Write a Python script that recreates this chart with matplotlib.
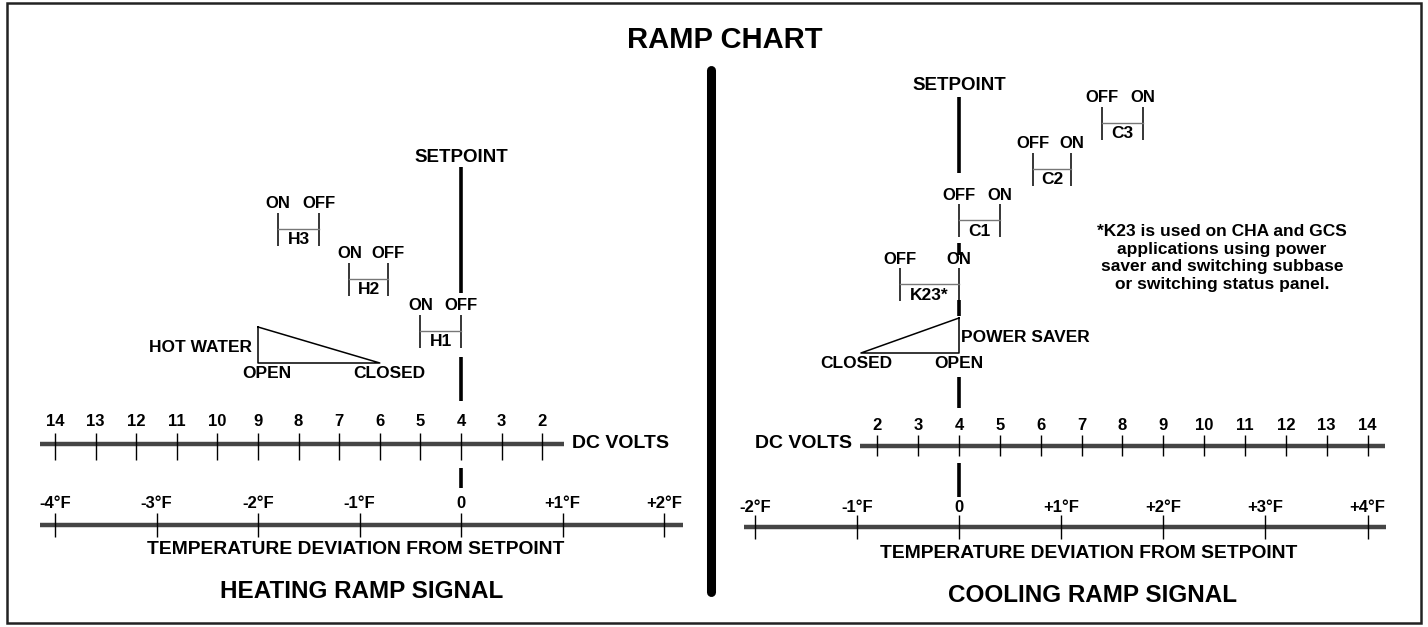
import matplotlib.pyplot as plt
from matplotlib.patches import Rectangle

plt.rcParams['font.family'] = ['Liberation Sans Narrow', 'DejaVu Sans Condensed',
                               'Liberation Sans', 'DejaVu Sans']
plt.rcParams['font.weight'] = 'bold'

# ---- data ----
volt_ticks = list(range(2, 15))
setpoint_volts = 4.0
volts_per_degree = 2.5

heat_temp = [-4, -3, -2, -1, 0, 1, 2]
heat_temp_labels = ['-4°F', '-3°F', '-2°F', '-1°F', '0', '+1°F', '+2°F']
cool_temp = [-2, -1, 0, 1, 2, 3, 4]
cool_temp_labels = ['-2°F', '-1°F', '0', '+1°F', '+2°F', '+3°F', '+4°F']

heat_stages = ['H1', 'H2', 'H3']
heat_on = [5.0, 6.75, 8.5]
heat_off = [4.0, 5.8, 7.5]

cool_stages = ['K23*', 'C1', 'C2', 'C3']
cool_off = [2.55, 4.0, 5.8, 7.5]
cool_on = [4.0, 5.0, 6.75, 8.5]

hot_water_open, hot_water_closed = 9.0, 6.0
saver_closed, saver_open = 1.6, 4.0

note = ('*K23 is used on CHA and GCS\napplications using power\n'
        'saver and switching subbase\nor switching status panel.')

AXIS_C = '#454545'
W, H = 1428, 627

fig = plt.figure(figsize=(W / 100, H / 100), dpi=100)

# background axes in pixel units
bg = fig.add_axes([0, 0, 1, 1])
bg.set_xlim(0, W)
bg.set_ylim(H, 0)
bg.axis('off')
bg.add_patch(Rectangle((7, 3), 1414, 620, fill=False, lw=1.8, edgecolor='#222222'))
bg.plot([711, 711], [70, 592], color='black', lw=6.5, solid_capstyle='round')
bg.text(725, 40, 'RAMP CHART', fontsize=21, ha='center', va='center')

# heating panel: x in volts (reversed), y in pixel rows
px_v_h, sp_px_h = 40.6, 461
axh = fig.add_axes([0, 0, 0.5, 1])
axh.set_xlim(4 + sp_px_h / px_v_h, 4 - (W / 2 - sp_px_h) / px_v_h)
axh.set_ylim(H, 0)
axh.axis('off')

# cooling panel
px_v_c, sp_px_c = 40.85, 959
axc = fig.add_axes([0.5, 0, 0.5, 1])
axc.set_xlim(4 - (sp_px_c - W / 2) / px_v_c, 4 + (W - sp_px_c) / px_v_c)
axc.set_ylim(H, 0)
axc.axis('off')


def scale(ax, x0, x1, y, ticks, labels, ly, t_up, t_dn):
    ax.plot([x0, x1], [y, y], color=AXIS_C, lw=3.2, solid_capstyle='butt')
    ax.vlines(ticks, y - t_up, y + t_dn, color='black', lw=1.0)
    for t, lab in zip(ticks, labels):
        ax.text(t, ly, lab, fontsize=12, ha='center', va='center')


def stage(ax, left, right, top, left_lab, right_lab, name):
    ax.vlines([left, right], top, top + 33, color='black', lw=1.1)
    ax.plot([left, right], [top + 16, top + 16], color='#777777', lw=1.0)
    ax.text(left, top - 9, left_lab, fontsize=12, ha='center', va='center')
    ax.text(right, top - 9, right_lab, fontsize=12, ha='center', va='center')
    ax.text((left + right) / 2, top + 27, name, fontsize=12.5, ha='center', va='center')


# ---- heating ----
axh.text(setpoint_volts, 157, 'SETPOINT', fontsize=13.5, ha='center', va='center')
for y0, y1 in [(167, 293), (357, 401), (468, 488)]:
    axh.plot([setpoint_volts, setpoint_volts], [y0, y1], color='black', lw=2.6,
             solid_capstyle='butt')

for name, on, off, top in zip(heat_stages, heat_on, heat_off, [315, 263, 213]):
    stage(axh, on, off, top, 'ON', 'OFF', name)

axh.plot([hot_water_open, hot_water_open, hot_water_closed, hot_water_open],
         [327, 363, 363, 327], color='black', lw=1.1)
axh.text(hot_water_open + 0.15, 348, 'HOT WATER', fontsize=12.5, ha='right', va='center')
axh.text(hot_water_open - 0.22, 374, 'OPEN', fontsize=12.5, ha='center', va='center')
axh.text(hot_water_closed - 0.24, 374, 'CLOSED', fontsize=12.5, ha='center', va='center')

scale(axh, 14.37, 1.46, 444, volt_ticks, [str(v) for v in volt_ticks], 422, 11, 16)
axh.text(1.27, 444, 'DC VOLTS', fontsize=14, ha='left', va='center')

heat_tv = [setpoint_volts - volts_per_degree * t for t in heat_temp]
scale(axh, 14.37, -1.47, 525, heat_tv, heat_temp_labels, 503, 12, 12)
axh.text(6.59, 550, 'TEMPERATURE DEVIATION FROM SETPOINT', fontsize=13.9,
         ha='center', va='center')
axh.text(6.44, 592, 'HEATING RAMP SIGNAL', fontsize=17.5, ha='center', va='center')

# ---- cooling ----
axc.text(setpoint_volts, 85, 'SETPOINT', fontsize=13.5, ha='center', va='center')
for y0, y1 in [(97, 173), (243, 255), (300, 316), (377, 408), (463, 497)]:
    axc.plot([setpoint_volts, setpoint_volts], [y0, y1], color='black', lw=2.6,
             solid_capstyle='butt')

for name, off, on, top in zip(cool_stages, cool_off, cool_on, [268, 204, 153, 107]):
    stage(axc, off, on, top, 'OFF', 'ON', name)

axc.plot([saver_open, saver_open, saver_closed, saver_open],
         [318, 353, 353, 318], color='black', lw=1.1)
axc.text(saver_open + 0.06, 337, 'POWER SAVER', fontsize=12.5, ha='left', va='center')
axc.text(saver_closed - 0.12, 363, 'CLOSED', fontsize=12.5, ha='center', va='center')
axc.text(saver_open, 363, 'OPEN', fontsize=12.5, ha='center', va='center')

axc.text(10.44, 258, note, fontsize=12.5, ha='center', va='center',
         multialignment='center', linespacing=1.2)

scale(axc, 1.58, 14.43, 446, volt_ticks, [str(v) for v in volt_ticks], 426, 11, 10)
axc.text(1.38, 444, 'DC VOLTS', fontsize=14, ha='right', va='center')

cool_tv = [setpoint_volts + volts_per_degree * t for t in cool_temp]
scale(axc, -1.26, 14.45, 527, cool_tv, cool_temp_labels, 508, 12, 12)
axc.text(7.18, 553, 'TEMPERATURE DEVIATION FROM SETPOINT', fontsize=13.9,
         ha='center', va='center')
axc.text(7.26, 595, 'COOLING RAMP SIGNAL', fontsize=17.5, ha='center', va='center')

fig.savefig('out.png', dpi=100)
